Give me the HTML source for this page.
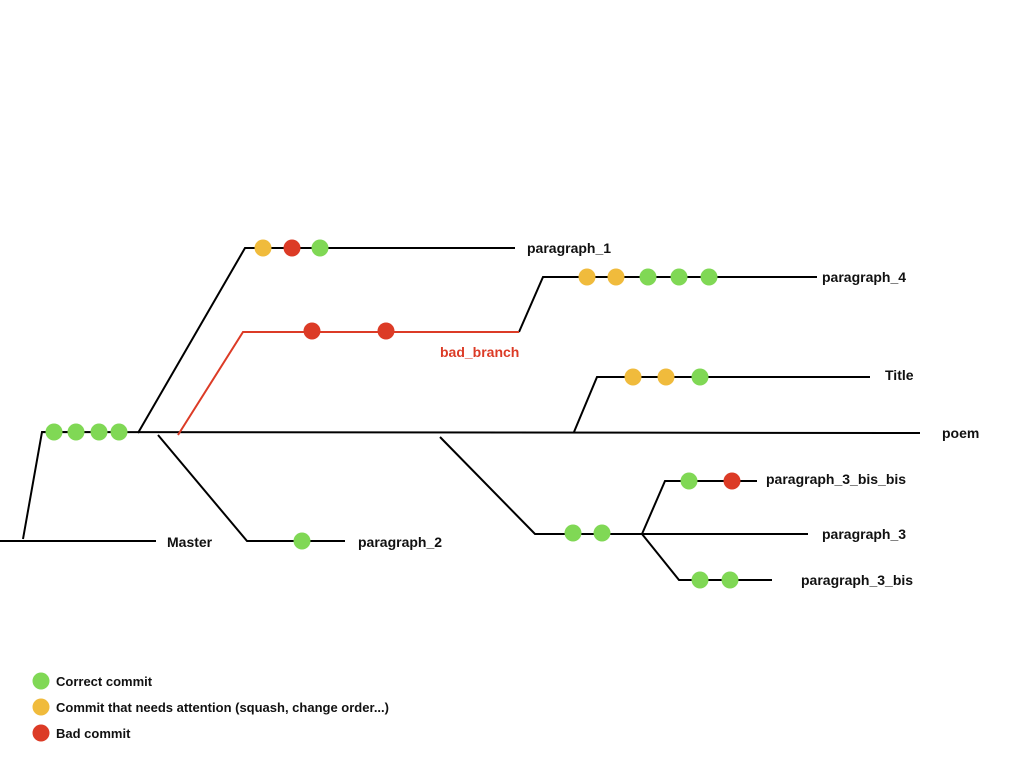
<!DOCTYPE html>
<html><head><meta charset="utf-8"><style>
html,body{margin:0;padding:0;background:#fff;}
svg{display:block;}
text{font-family:"Liberation Sans",Arial,sans-serif;font-weight:bold;font-size:14px;fill:#111;}
.l{font-size:13px;}
</style></head><body>
<svg width="1024" height="768" viewBox="0 0 1024 768" xmlns="http://www.w3.org/2000/svg">
<g fill="none" stroke="#000" stroke-width="2">
<polyline points="0,541 156,541"/>
<polyline points="23,539 42,432 920,433"/>
<polyline points="138,433 245,248 515,248"/>
<polyline points="519,332 543,277 817,277"/>
<polyline points="574,432 597,377 870,377"/>
<polyline points="158,435 247,541 345,541"/>
<polyline points="440,437 535,534 808,534"/>
<polyline points="642,534 665,481 757,481"/>
<polyline points="642,534 679,580 772,580"/>
</g>
<polyline points="178,435 243,332 519,332" fill="none" stroke="#dc3b26" stroke-width="2"/>
<g fill="#80d855">
<circle cx="54" cy="432" r="8.5"/><circle cx="76" cy="432" r="8.5"/><circle cx="99" cy="432" r="8.5"/><circle cx="119" cy="432" r="8.5"/>
<circle cx="320" cy="248" r="8.5"/>
<circle cx="648" cy="277" r="8.5"/><circle cx="679" cy="277" r="8.5"/><circle cx="709" cy="277" r="8.5"/>
<circle cx="700" cy="377" r="8.5"/>
<circle cx="302" cy="541" r="8.5"/>
<circle cx="573" cy="533" r="8.5"/><circle cx="602" cy="533" r="8.5"/>
<circle cx="689" cy="481" r="8.5"/>
<circle cx="700" cy="580" r="8.5"/><circle cx="730" cy="580" r="8.5"/>
<circle cx="41" cy="681" r="8.5"/>
</g>
<g fill="#f0bb3c">
<circle cx="263" cy="248" r="8.5"/>
<circle cx="587" cy="277" r="8.5"/><circle cx="616" cy="277" r="8.5"/>
<circle cx="633" cy="377" r="8.5"/><circle cx="666" cy="377" r="8.5"/>
<circle cx="41" cy="707" r="8.5"/>
</g>
<g fill="#dc3b26">
<circle cx="292" cy="248" r="8.5"/>
<circle cx="312" cy="331" r="8.5"/><circle cx="386" cy="331" r="8.5"/>
<circle cx="732" cy="481" r="8.5"/>
<circle cx="41" cy="733" r="8.5"/>
</g>
<text x="527" y="253">paragraph_1</text>
<text x="822" y="282">paragraph_4</text>
<text x="440" y="357" style="fill:#dc3b26">bad_branch</text>
<text x="885" y="380">Title</text>
<text x="942" y="438">poem</text>
<text x="167" y="547">Master</text>
<text x="358" y="547">paragraph_2</text>
<text x="766" y="484">paragraph_3_bis_bis</text>
<text x="822" y="539">paragraph_3</text>
<text x="801" y="585">paragraph_3_bis</text>
<text class="l" x="56" y="686">Correct commit</text>
<text class="l" x="56" y="712">Commit that needs attention (squash, change order...)</text>
<text class="l" x="56" y="738">Bad commit</text>
</svg>
</body></html>
